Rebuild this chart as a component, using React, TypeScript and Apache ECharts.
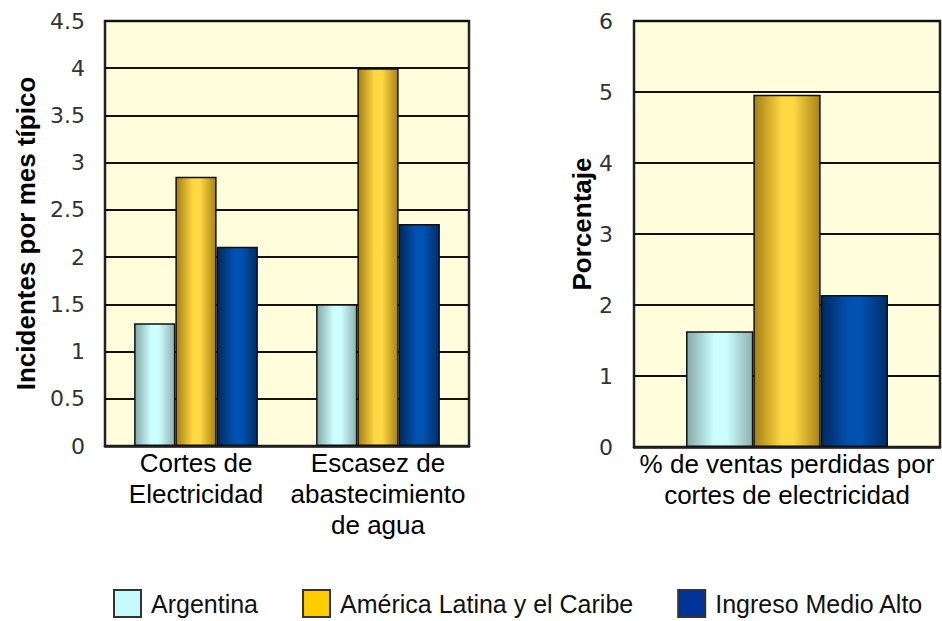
import React, { useEffect, useRef } from "react";
import * as echarts from "echarts";

const categoriesLeft = ["Cortes de\nElectricidad", "Escasez de\nabastecimiento\nde agua"];
const categoriesRight = ["% de ventas perdidas por\ncortes de electricidad"];
const seriesNames = ["Argentina", "América Latina y el Caribe", "Ingreso Medio Alto"];

// Incidentes por mes típico (left chart)
const incidentesArgentina = [1.3, 1.5];
const incidentesAmerica = [2.85, 4.0];
const incidentesIngreso = [2.11, 2.35];

// Porcentaje de ventas perdidas (right chart)
const ventasArgentina = [1.63];
const ventasAmerica = [4.96];
const ventasIngreso = [2.14];

const leftTitle = "Incidentes por mes típico";
const rightTitle = "Porcentaje";

export default function App() {
  const ref = useRef<HTMLDivElement>(null);

  useEffect(() => {
    if (!ref.current) return;
    const chart = echarts.init(ref.current, undefined, { renderer: "svg" });

    const grad = (edgeL: string, mid: string, edgeR: string) =>
      new echarts.graphic.LinearGradient(0, 0, 1, 0, [
        { offset: 0, color: edgeL },
        { offset: 0.42, color: mid },
        { offset: 0.6, color: mid },
        { offset: 1, color: edgeR },
      ]);

    const fills = [
      () => grad("#86a9a9", "#cdffff", "#8eb0b0"),
      () => grad("#a47e12", "#ffd843", "#a78315"),
      () => grad("#00285e", "#0052b0", "#002d68"),
    ];
    const legendColors = ["#c6fbfb", "#ffcc00", "#003399"];

    const leftData = [incidentesArgentina, incidentesAmerica, incidentesIngreso];
    const rightData = [ventasArgentina, ventasAmerica, ventasIngreso];

    const gridCommon = {
      show: true,
      backgroundColor: "#fffddc",
      borderColor: "#222",
      borderWidth: 2.5,
      containLabel: false,
      outerBoundsMode: "none",
    };

    const xAxisCommon = {
      type: "category" as const,
      axisLine: { show: true, lineStyle: { color: "#222", width: 2.5 } },
      axisTick: { show: false },
      axisLabel: {
        interval: 0,
        color: "#000",
        fontSize: 26,
        lineHeight: 31,
        fontFamily: "Liberation Sans",
        margin: 1,
      },
      splitLine: { show: false },
    };

    const yAxisCommon = {
      type: "value" as const,
      axisLine: { show: false },
      axisTick: { show: false },
      splitLine: { show: true, lineStyle: { color: "#111", width: 2 } },
      nameLocation: "middle" as const,
      nameTextStyle: {
        fontFamily: "Liberation Sans",
        fontWeight: "bold" as const,
        fontSize: 26,
        color: "#000",
      },
    };

    const series: any[] = [];
    seriesNames.forEach((name, i) => {
      series.push({
        name,
        type: "bar",
        xAxisIndex: 0,
        yAxisIndex: 0,
        data: leftData[i],
        barGap: "0%",
        barCategoryGap: "32%",
        itemStyle: { color: fills[i](), borderColor: "#111", borderWidth: 1.5 },
      });
    });
    seriesNames.forEach((name, i) => {
      series.push({
        name,
        type: "bar",
        xAxisIndex: 1,
        yAxisIndex: 1,
        data: rightData[i],
        barGap: "0%",
        barCategoryGap: "34%",
        itemStyle: { color: fills[i](), borderColor: "#111", borderWidth: 1.5 },
      });
    });

    chart.setOption({
      animation: false,
      backgroundColor: "#ffffff",
      grid: [
        { ...gridCommon, left: 105, top: 21, width: 364, height: 425 },
        { ...gridCommon, left: 634, top: 21, width: 306, height: 426 },
      ],
      xAxis: [
        { ...xAxisCommon, gridIndex: 0, data: categoriesLeft },
        { ...xAxisCommon, gridIndex: 1, data: categoriesRight },
      ],
      yAxis: [
        {
          ...yAxisCommon,
          gridIndex: 0,
          min: 0,
          max: 4.5,
          interval: 0.5,
          name: leftTitle,
          nameGap: 66,
          axisLabel: {
            color: "#333",
            fontSize: 22,
            fontFamily: "DejaVu Sans",
            margin: 20,
          },
        },
        {
          ...yAxisCommon,
          gridIndex: 1,
          min: 0,
          max: 6,
          interval: 1,
          name: rightTitle,
          nameGap: 36,
          nameTextStyle: { ...yAxisCommon.nameTextStyle, padding: [0, 0, 0, 20] },
          axisLabel: {
            color: "#333",
            fontSize: 22,
            fontFamily: "DejaVu Sans",
            margin: 21,
          },
        },
      ],
      legend: {
        left: 113,
        top: 589,
        padding: 0,
        itemWidth: 27,
        itemHeight: 27,
        itemGap: 44,
        icon: "rect",
        selectedMode: false,
        textStyle: {
          fontFamily: "Liberation Sans",
          fontSize: 25,
          color: "#111",
          padding: [0, 0, 0, 5],
        },
        data: seriesNames.map((name, i) => ({
          name,
          itemStyle: { color: legendColors[i], borderColor: "#333", borderWidth: 2 },
        })),
      },
      series,
    });

    return () => chart.dispose();
  }, []);

  return (
    <div
      ref={ref}
      style={{ position: "fixed", left: 0, top: 0, width: 942, height: 621 }}
    />
  );
}
